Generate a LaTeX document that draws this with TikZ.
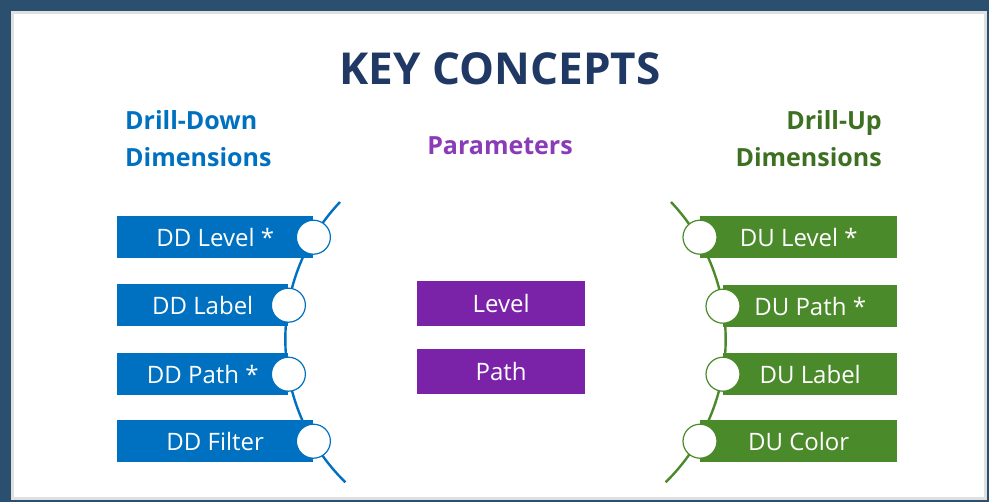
\documentclass[tikz,border=0pt]{standalone}
\usepackage{fontspec}
\setmainfont{Open Sans}
\usepackage{xcolor}
\usetikzlibrary{positioning,calc}
\definecolor{cFrame}{HTML}{2B4F6E}
\definecolor{cTitle}{HTML}{1F3864}
\definecolor{cDD}{HTML}{0070C0}
\definecolor{cDU}{HTML}{4A8A2A}
\definecolor{cDUhead}{HTML}{3D7021}
\definecolor{cPar}{HTML}{7A22A8}
\definecolor{cParhead}{HTML}{8A3BB8}
\tikzset{
  x=1pt, y=-1pt,
  head/.style={text=#1, font=\fontsize{25}{30}\selectfont\bfseries, inner sep=0pt},
  dimbox/.style={fill=#1, text=white, font=\fontsize{24}{28}\selectfont,
                 minimum height=42pt, inner sep=0pt, anchor=north west},
  parbox/.style={fill=cPar, text=white, font=\fontsize{24}{28}\selectfont,
                 minimum width=168pt, minimum height=45pt, inner sep=0pt, anchor=north west},
  knob/.style={circle, draw=#1, fill=white, line width=1.2pt, minimum size=34pt, inner sep=0pt},
  spine/.style={draw=#1, line width=2.4pt},
}
\begin{document}
\begin{tikzpicture}
\useasboundingbox (0,0) rectangle (989,502);
% frame
\fill[cFrame] (0,0) rectangle (989,502);
\draw[black!12, line width=3pt, fill=white] (12,13) rectangle (985,499);
% headings
\node[text=cTitle, font=\fontsize{44}{50}\selectfont\bfseries, inner sep=0pt, anchor=base] (title) at (500,85) {KEY CONCEPTS};
\node[head=cDD, anchor=base west] (ddhead) at (125,130) {Drill-Down};
\node[head=cDD, anchor=base west] (ddsub) at ([yshift=-37pt]ddhead.base west) {Dimensions};
\node[head=cParhead, anchor=base] (parhead) at (500,155) {Parameters};
\node[head=cDUhead, anchor=base east] (duhead) at (882,130) {Drill-Up};
\node[head=cDUhead, anchor=base east] (dusub) at ([yshift=-37pt]duhead.base east) {Dimensions};
% spines
\coordinate (ddtop) at (340,202);
\coordinate (dutop) at (671,202);
\draw[spine=cDD] (ddtop) arc[start angle=-136.6, end angle=-225.6, radius=200];
\draw[spine=cDU] (dutop) arc[start angle=-43.4, end angle=45.6, radius=200];
% drill-down
\node[dimbox=cDD, minimum width=196pt] (ddlevel) at (117,216) {DD Level *};
\node[dimbox=cDD, minimum width=171pt] (ddlabel) at (117,284) {DD Label};
\node[dimbox=cDD, minimum width=171pt] (ddpath) at (117,353) {DD Path *};
\node[dimbox=cDD, minimum width=196pt] (ddfilter) at (117,420) {DD Filter};
\node[knob=cDD] (kddlevel) at (ddlevel.east) {};
\node[knob=cDD] (kddlabel) at (ddlabel.east) {};
\node[knob=cDD] (kddpath) at (ddpath.east) {};
\node[knob=cDD] (kddfilter) at (ddfilter.east) {};
% parameters
\node[parbox] (plevel) at (417,281) {Level};
\node[parbox] (ppath) at (417,349) {Path};
% drill-up
\node[dimbox=cDU, minimum width=197pt] (dulevel) at (700,216) {DU Level *};
\node[dimbox=cDU, minimum width=174pt] (dupath) at (723,285) {DU Path *};
\node[dimbox=cDU, minimum width=174pt] (dulabel) at (723,353) {DU Label};
\node[dimbox=cDU, minimum width=197pt] (ducolor) at (700,420) {DU Color};
\node[knob=cDU] (kdulevel) at (dulevel.west) {};
\node[knob=cDU] (kdupath) at (dupath.west) {};
\node[knob=cDU] (kdulabel) at (dulabel.west) {};
\node[knob=cDU] (kducolor) at (ducolor.west) {};
\end{tikzpicture}
\end{document}
